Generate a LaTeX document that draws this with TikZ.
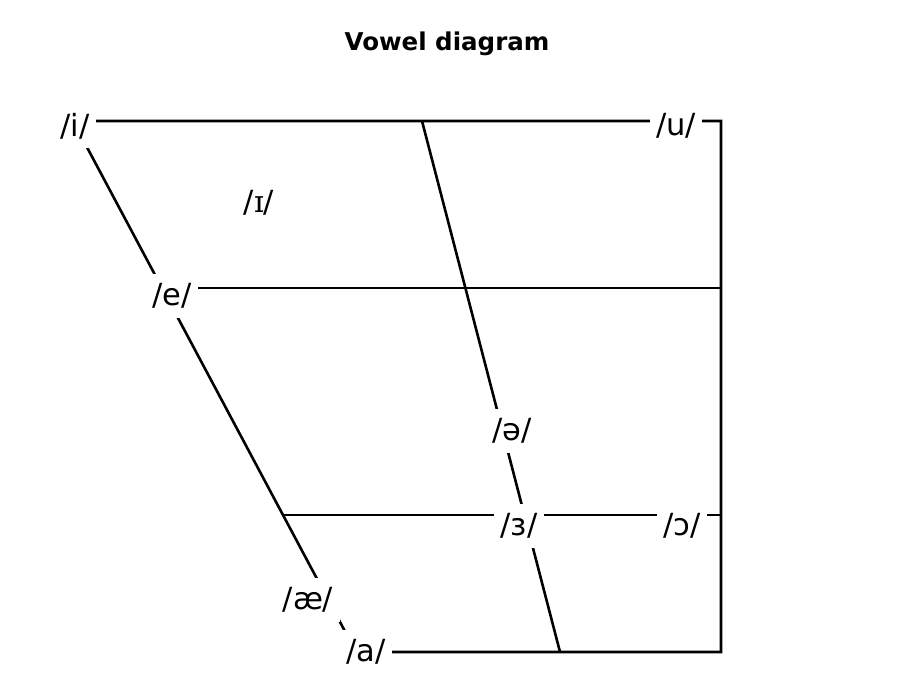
\documentclass[tikz,border=0pt]{standalone}
\usepackage{fontspec}
\setmainfont{DejaVu Sans}
\newfontfamily\ipaserif{DejaVu Serif}
\begin{document}
\begin{tikzpicture}[x=1pt,y=-1pt,
  chart/.style={line width=2.6pt, line join=miter, black},
  lbl/.style={fill=white, inner xsep=6.5pt, inner ysep=9pt, font=\fontsize{30.5}{36}\selectfont},
  title/.style={font=\bfseries\fontsize{24.5}{30}\selectfont}]
\useasboundingbox (0,0) rectangle (910,699);
% corners and junctions
\coordinate (TL) at (73,121);
\coordinate (TM) at (422,121);
\coordinate (TR) at (721,121);
\coordinate (ML) at (162,288);
\coordinate (MR) at (721,288);
\coordinate (LL) at (283,515);
\coordinate (LR) at (721,515);
\coordinate (BL) at (356,652);
\coordinate (BM) at (560,652);
\coordinate (BR) at (721,652);
% chart lines
\draw[chart] (TL) -- (TR) -- (BR) -- (BL) -- cycle;
\draw[chart] (TM) -- (BM);
\draw[chart] (ML) -- (MR);
\draw[chart] (LL) -- (LR);
% labels
\node[title] (t) at (447,44) {Vowel diagram};
\node[lbl] (i) at (75,126) {/i/};
\node[lbl] (u) at (676,126) {/u/};
\node[lbl] (e) at (172,296) {/e/};
\node[lbl] (schwa) at (512,431) {/ə/};
\node[lbl] (er) at (519,526) {/ɜ/};
\node[lbl] (oo) at (682,526) {/ɔ/};
\node[lbl] (ae) at (308,600) {/æ/};
\node[lbl] (a) at (366,652) {/a/};
\node[font=\fontsize{30.5}{36}\selectfont] (ih) at (259,203) {/{\ipaserif ɪ}/};
\end{tikzpicture}
\end{document}
